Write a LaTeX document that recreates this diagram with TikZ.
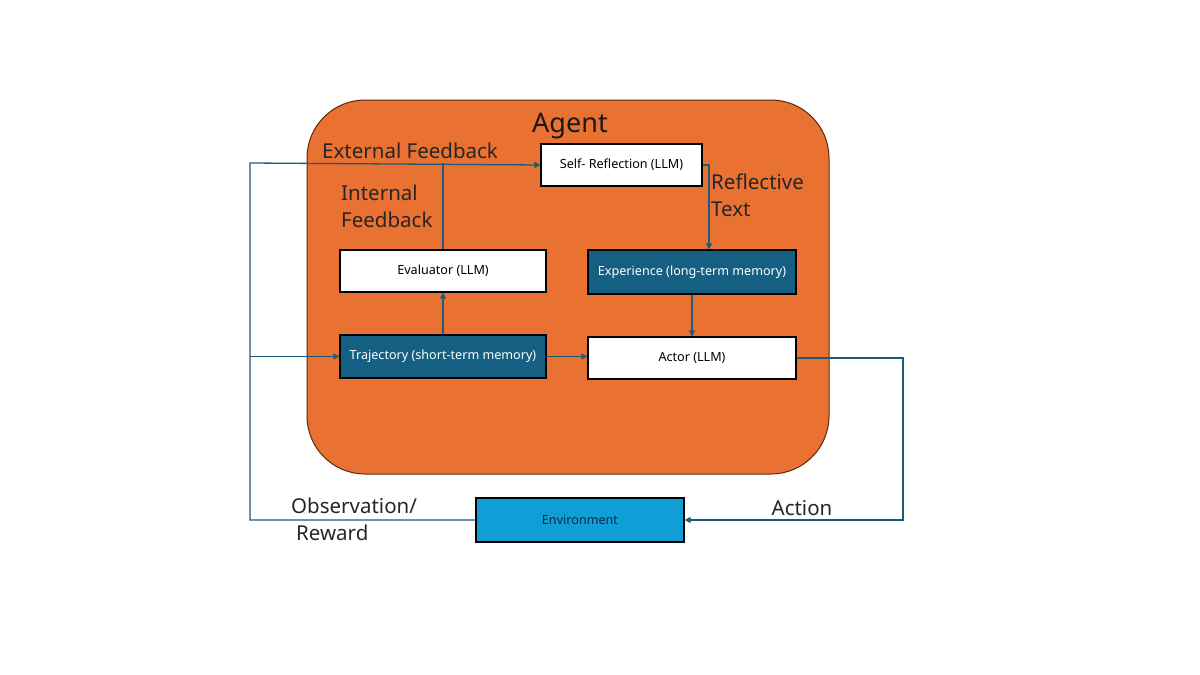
\documentclass[tikz,border=0pt]{standalone}
\usepackage{fontspec}
\setmainfont{Noto Sans}
\usetikzlibrary{arrows.meta}
\definecolor{agentor}{HTML}{E97132}
\definecolor{agentbd}{HTML}{5A2A10}
\definecolor{darkteal}{HTML}{156082}
\definecolor{envblue}{HTML}{0F9ED5}
\definecolor{wire}{HTML}{1F5A78}
\definecolor{envtext}{HTML}{0E2A47}
\begin{document}
\begin{tikzpicture}[x=1pt,y=-1pt,
  box/.style={draw=black,line width=1.2pt,minimum height=42pt,inner sep=0pt,font=\fontsize{12.6}{14}\selectfont},
  whitebox/.style={box,fill=white,text=black},
  tealbox/.style={box,fill=darkteal,text=white},
  wireline/.style={draw=wire,line width=1.3pt},
  arr/.style={wireline,-{Triangle[length=6pt,width=6pt]}},
  lbl/.style={font=\fontsize{20.5}{27}\selectfont,text=black!85,inner sep=0pt,align=left}]
\useasboundingbox (0,0) rectangle (1200,675);
\fill[white] (0,0) rectangle (1200,675);
% agent container
\node[draw=agentbd,line width=1pt,fill=agentor,rounded corners=58pt,minimum width=522pt,minimum height=374pt,inner sep=0pt] (agent) at (568,287) {};
\node[font=\fontsize{27}{30}\selectfont,text=black!90,inner sep=0pt] (agentlbl) at (570,126) {Agent};
% boxes
\node[whitebox,minimum width=161pt] (sr) at (621.5,165) {Self- Reflection (LLM)};
\node[whitebox,minimum width=206pt] (ev) at (443,271) {Evaluator (LLM)};
\node[tealbox,minimum width=208pt,minimum height=44pt] (ex) at (692,272) {Experience (long-term memory)};
\node[tealbox,minimum width=206pt,minimum height=43pt] (tr) at (443,356.5) {Trajectory (short-term memory)};
\node[whitebox,minimum width=208pt] (ac) at (692,358) {Actor (LLM)};
\node[box,fill=envblue,text=envtext,minimum width=208pt,minimum height=44pt] (env) at (580,520) {Environment};
% helper coordinates
\coordinate (lc) at (250,163);
\coordinate (rt) at (709,0);
\coordinate (ra) at (903,0);
% connectors
\draw[arr] (env.west) -- (env.west -| lc) -- (lc) -- (sr.west);
\draw[arr] (tr.west -| lc) -- (tr.west);
\draw[wireline] (ev.north) -- (ev.north |- lc);
\draw[arr] (tr.north) -- (ev.south);
\draw[arr] (tr.east) -- (tr.east -| ac.west);
\draw[arr] (sr.east) -- (sr.east -| rt) -- (ex.north -| rt);
\draw[arr] (ex.south) -- (ac.north);
\draw[arr] (ac.east) -- (ac.east -| ra) -- (env.east -| ra) -- (env.east);
% labels
\node[lbl,anchor=west] (extfb) at (322,151) {External Feedback};
\node[lbl,anchor=west] (intfb1) at (341,193) {Internal};
\node[lbl,anchor=west] (intfb2) at (341,220) {Feedback};
\node[lbl,anchor=west] (refl1) at (711,182) {Reflective};
\node[lbl,anchor=west] (refl2) at (711,209) {Text};
\node[lbl] (act) at (802,508) {Action};
\node[lbl,anchor=west] (obs) at (291,506) {Observation/};
\node[lbl,anchor=west] (rew) at (296,533) {Reward};
\end{tikzpicture}
\end{document}
